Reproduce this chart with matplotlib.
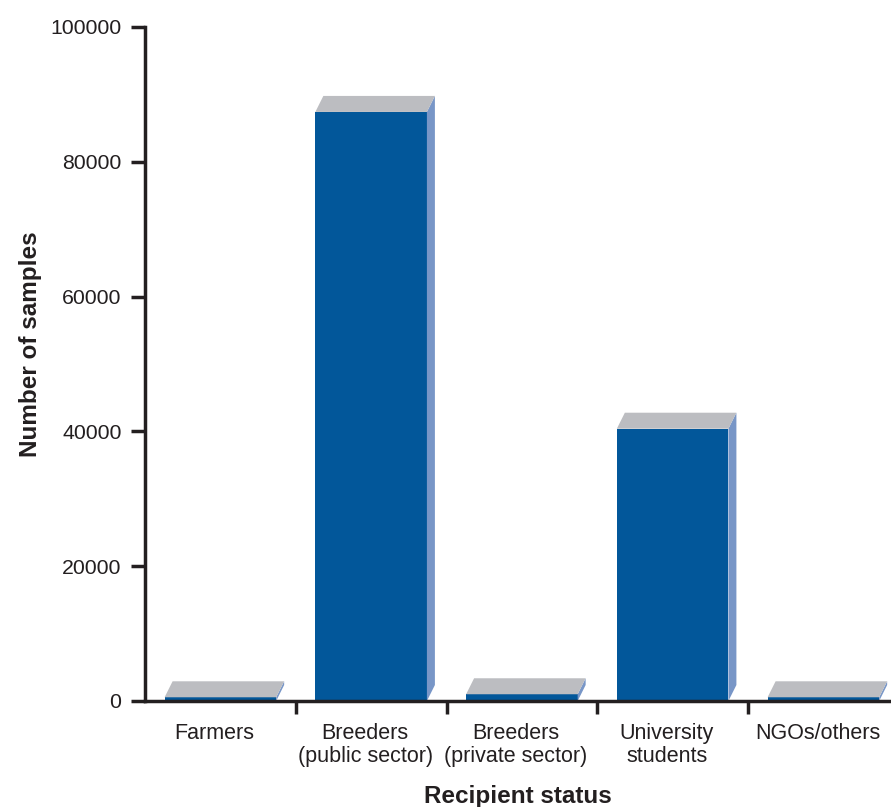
import matplotlib
matplotlib.use("Agg")
import matplotlib.pyplot as plt
from matplotlib.patches import Polygon
from matplotlib.transforms import ScaledTranslation

plt.rcParams["font.family"] = ["Liberation Sans", "DejaVu Sans"]

# Data
categories = ["Farmers", "Breeders\n(public sector)", "Breeders\n(private sector)",
              "University\nstudents", "NGOs/others"]
samples = [550, 87400, 1000, 40400, 550]
y_ticks = [0, 20000, 40000, 60000, 80000, 100000]

# Styling
front_color = "#02579A"
side_color = "#7896C7"
top_color = "#BCBDC1"
ink = "#231F20"
bar_width = 0.74
depth_px = (8, 16)          # 3D depth offset of each bar, in pixels (right, up)

W, H, DPI = 891, 807, 100
fig = plt.figure(figsize=(W / DPI, H / DPI), dpi=DPI)
ax_left, ax_bottom, ax_top = 145, 701, 27
ax = fig.add_axes([ax_left / W, (H - ax_bottom) / H,
                   (W - ax_left) / W, (ax_bottom - ax_top) / H])

xmin, xmax = -0.5, -0.5 + (W - ax_left) / 150.75
ymin, ymax = 0, 100000
ax.set_xlim(xmin, xmax)
ax.set_ylim(ymin, ymax)

# pixel -> data conversion for the depth offset
px_x = (W - ax_left) / (xmax - xmin)
px_y = (ax_bottom - ax_top) / (ymax - ymin)
dx = depth_px[0] / px_x
dy = depth_px[1] / px_y

xs = list(range(len(categories)))
ax.bar(xs, samples, width=bar_width, color=front_color, linewidth=0, zorder=2)
for x, v in zip(xs, samples):
    x0, x1 = x - bar_width / 2, x + bar_width / 2
    side = Polygon([(x1, 0), (x1, v), (x1 + dx, v + dy), (x1 + dx, dy)],
                   closed=True, facecolor=side_color, edgecolor="none",
                   zorder=2, clip_on=False)
    top = Polygon([(x0, v), (x1, v), (x1 + dx, v + dy), (x0 + dx, v + dy)],
                  closed=True, facecolor=top_color, edgecolor="none",
                  zorder=2, clip_on=False)
    ax.add_patch(side)
    ax.add_patch(top)

# Axes styling
for s in ["top", "right"]:
    ax.spines[s].set_visible(False)
for s in ["left", "bottom"]:
    ax.spines[s].set_linewidth(2.5)
    ax.spines[s].set_color(ink)
    ax.spines[s].set_zorder(5)
    ax.spines[s].set_capstyle("projecting")

ax.set_yticks(y_ticks)
ax.set_yticklabels([str(t) for t in y_ticks])
ax.tick_params(axis="y", direction="out", length=10, width=2.5, color=ink,
               pad=7, labelsize=15.3, labelcolor=ink)

ax.set_xticks(xs)
ax.set_xticklabels(categories, linespacing=1.12)
ax.set_xticks([i + 0.5 for i in range(len(categories) - 1)], minor=True)
ax.tick_params(axis="x", which="major", length=0, pad=16, labelsize=15.5,
               labelcolor=ink)
ax.tick_params(axis="x", which="minor", direction="out", length=9.5,
               width=2.5, color=ink)
shift = ScaledTranslation(-6 / DPI, 0, fig.dpi_scale_trans)
for lbl in ax.get_xticklabels():
    lbl.set_transform(lbl.get_transform() + shift)

fig.text((ax_left + W) / 2 / W, (H - 803) / H, "Recipient status",
         ha="center", va="baseline", fontsize=17.5, fontweight="bold", color=ink)
fig.text(31 / W, (H - 344) / H, "Number of samples", rotation=90,
         ha="center", va="center", fontsize=17.5, fontweight="bold", color=ink)

fig.savefig("out.png", dpi=DPI)
